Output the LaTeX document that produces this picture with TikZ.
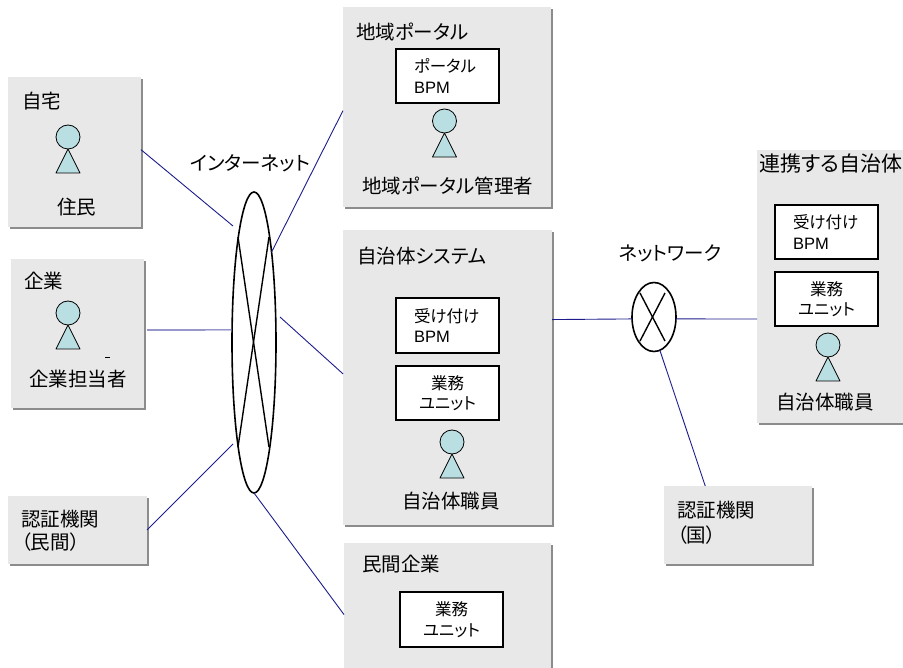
\documentclass[tikz,border=0pt]{standalone}
\usepackage{fontspec}
\setmainfont{Noto Sans CJK JP}[RawFeature=+palt]
\newfontfamily\latinfont{Liberation Sans}
\usetikzlibrary{shapes.geometric,shadows,calc}
\definecolor{boxgray}{HTML}{E8E8E8}
\definecolor{shadowgray}{HTML}{8C8C8C}
\definecolor{actorfill}{HTML}{B9DFE2}
\definecolor{linkblue}{HTML}{1C1C8C}
\tikzset{
  x=1pt,y=-1pt,
  zone/.style={rectangle,fill=boxgray,inner sep=0pt,outer sep=0pt,
    general shadow={fill=shadowgray,shadow xshift=1.6pt,shadow yshift=-1.6pt}},
  inner box/.style={rectangle,draw=black,line width=1.3pt,fill=white,inner sep=0pt,outer sep=0pt,
    minimum width=103pt,minimum height=54pt,font=\fontsize{16.5}{20.5}\selectfont},
  unit box/.style={inner box,align=center},
  bpm box/.style={inner box,align=left,text width=67pt},
  title/.style={inner sep=0pt,font=\fontsize{19.5}{23}\selectfont},
  link/.style={draw=linkblue,line width=0.9pt},
  cloud/.style={ellipse,draw=black,line width=1.6pt,fill=none,inner sep=0pt,outer sep=0pt},
  crossing/.style={draw=black,line width=1.4pt},
  actor/.pic={
    \draw[fill=actorfill,line width=0.8pt,line join=round] (0,12) -- (-12,36) -- (12,36) -- cycle;
    \draw[fill=actorfill,line width=0.8pt] (0,0) circle[radius=12];
  }
}
\begin{document}
\begin{tikzpicture}
\useasboundingbox (0,0) rectangle (903,668);
% zones
\node[zone,minimum width=133pt,minimum height=150pt] (home) at (74.5,152) {};
\node[zone,minimum width=133pt,minimum height=149pt] (company) at (77.5,333.5) {};
\node[zone,minimum width=139pt,minimum height=68pt] (certp) at (77.5,530) {};
\node[zone,minimum width=208pt,minimum height=200pt] (portal) at (447,107) {};
\node[zone,minimum width=209pt,minimum height=295pt] (gov) at (447.5,377.5) {};
\node[zone,minimum width=207pt,minimum height=125pt] (private) at (447.5,605.5) {};
\node[zone,minimum width=146pt,minimum height=273pt] (partner) at (830,286.5) {};
\node[zone,minimum width=148pt,minimum height=78pt] (certg) at (738,525) {};
% clouds
\node[cloud,minimum width=44pt,minimum height=301pt] (net) at (254,342.5) {};
\node[cloud,minimum width=44pt,minimum height=69pt] (nw) at (654,317) {};
\coordinate (netA) at ($(net.center)+(-21,-116.5)$);
\coordinate (netB) at ($(net.center)+(26,-25.5)$);
\coordinate (netC) at ($(net.center)+(-21,101.5)$);
\draw[crossing] (238,237) -- (269,447);
\draw[crossing] (269,237) -- (238,447);
\draw[crossing] (640,293) -- (665,341);
\draw[crossing] (665,293) -- (640,341);
% connectors
\draw[link] (home.2.6) -- (netA);
\draw[link,shorten <=3pt,draw=linkblue!70,line width=1.2pt] (company.3) -- (net.150);
\draw[link] (certp.east) -- (netC);
\draw[link] (portal.182.2) -- (net.79);
\draw[link] (gov.178.1) -- (netB);
\draw[link] (private.185) -- (net.south);
\draw[link] (gov.29.2) -- (nw.185);
\draw[link] (nw.-5) -- (partner.204);
\draw[link] (nw.-80) -- (certg.130.2);
% inner boxes
\node[bpm box] (pbpm) at (447.5,76) {ポータル\\[1pt]{\latinfont BPM}};
\node[bpm box,minimum height=55pt] (gbpm) at (447.5,325.5) {受け付け\\{\latinfont BPM}};
\node[unit box] (gunit) at (447.5,393) {業務\\ユニット};
\node[bpm box] (cbpm) at (826.5,232) {受け付け\\{\latinfont BPM}};
\node[unit box] (cunit) at (826.5,299) {業務\\ユニット};
\node[unit box,minimum height=55pt] (punit) at (451.5,619.5) {業務\\ユニット};
% actors
\pic at (68,137) {actor};
\pic at (68,313) {actor};
\pic at (444.5,121) {actor};
\pic at (452,442) {actor};
\pic at (828,345) {actor};
\draw[line width=0.6pt] (105,357) -- (110,357);
% labels
\node[title,anchor=west] (t1) at (22,101) {自宅};
\node[title,anchor=west] (t2) at (57,207) {住民};
\node[title,anchor=west] (t3) at (24,281) {企業};
\node[title] (t4) at (78,379) {企業担当者};
\node[title,anchor=west] (t5) at (21,519) {認証機関};
\node[title,anchor=west] (t6) at (21,542) {（民間）};
\node[title] (t7) at (250,163) {インターネット};
\node[title,anchor=west] (t8) at (356,32) {地域ポータル};
\node[title,anchor=west] (t9) at (362,186) {地域ポータル管理者};
\node[title,anchor=west] (t10) at (357,256) {自治体システム};
\node[title] (t11) at (451,501) {自治体職員};
\node[title,anchor=west] (t12) at (362,564) {民間企業};
\node[title] (t13) at (670,253) {ネットワーク};
\node[title,anchor=west,font=\fontsize{21}{25}\selectfont] (t14) at (759,164) {連携する自治体};
\node[title] (t15) at (825,402) {自治体職員};
\node[title,anchor=west] (t16) at (677,510) {認証機関};
\node[title,anchor=west] (t17) at (677,535) {（国）};
\end{tikzpicture}
\end{document}
